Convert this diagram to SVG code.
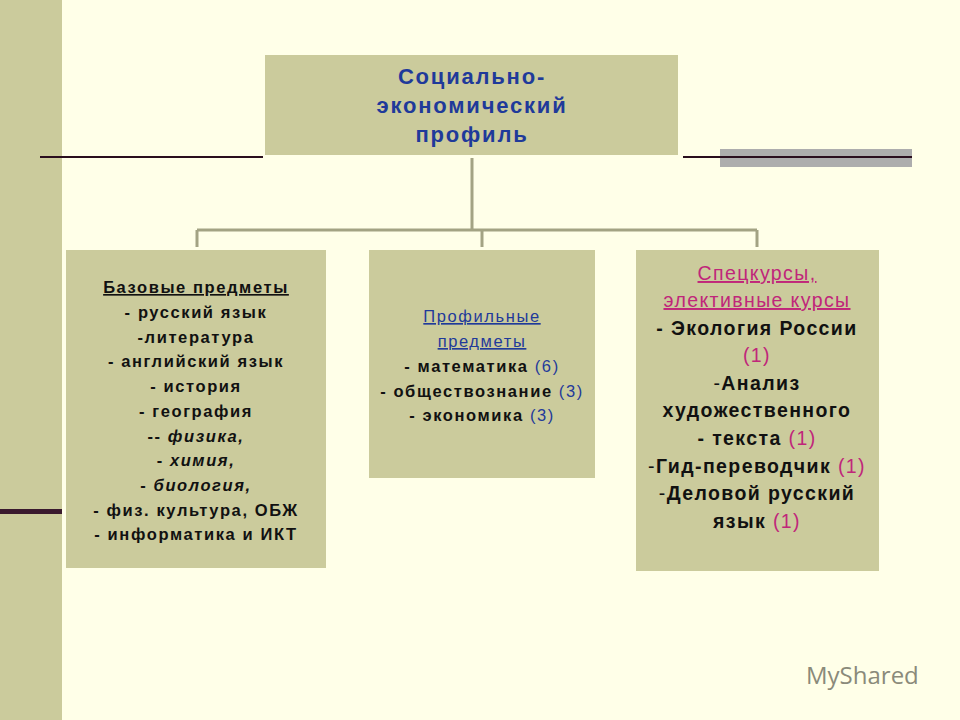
<svg xmlns="http://www.w3.org/2000/svg" width="960" height="720" viewBox="0 0 960 720">
<style>
.box{fill:#CBCB9C}
.t{font-family:"Liberation Sans",Arial,sans-serif;font-weight:bold;text-anchor:middle;fill:#111}
.b{font-size:16.5px;letter-spacing:1.6px}
.r{font-size:19.5px;letter-spacing:1.4px}
.ttl{font-size:22px;letter-spacing:1.8px}
.blue{fill:#1F3A9A}
.pink{fill:#C0267A}
.n{font-weight:normal}
.i{font-style:italic}
.conn{stroke:#A3A383;stroke-width:3;fill:none}
</style>
<rect width="960" height="720" fill="#FFFFE8"/>
<rect x="0" y="0" width="62" height="720" fill="#CBCB9C"/>
<rect x="0" y="509" width="62" height="5" fill="#3A1A2E"/>
<rect x="720" y="149" width="192" height="18" fill="#ADADAD"/>
<line x1="40" y1="157" x2="263" y2="157" stroke="#2A0E1E" stroke-width="2"/>
<line x1="683" y1="157" x2="912" y2="157" stroke="#2A0E1E" stroke-width="2"/>
<g id="connectors">
<path class="conn" d="M472 158V230M197 230H757M197 230V247M482 230V247M757 230V247"/>
</g>
<g id="root">
<rect class="box" x="265" y="55" width="413" height="100"/>
<text class="t ttl blue" x="472" y="84">Социально-</text>
<text class="t ttl blue" x="472" y="113">экономический</text>
<text class="t ttl blue" x="472" y="142">профиль</text>
</g>
<g id="base">
<rect class="box" x="66" y="250" width="260" height="318"/>
<text class="t b" x="196" y="293" text-decoration="underline">Базовые  предметы</text>
<text class="t b" x="196" y="318">- русский язык</text>
<text class="t b" x="196" y="343">-литература</text>
<text class="t b" x="196" y="367">- английский язык</text>
<text class="t b" x="196" y="392">- история</text>
<text class="t b" x="196" y="417">- география</text>
<text class="t b" x="196" y="442">-- <tspan class="i">физика,</tspan></text>
<text class="t b" x="196" y="466">- <tspan class="i">химия,</tspan></text>
<text class="t b" x="196" y="491">- <tspan class="i">биология,</tspan></text>
<text class="t b" x="196" y="516">- физ. культура,  ОБЖ</text>
<text class="t b" x="196" y="540">- информатика и ИКТ</text>
</g>
<g id="profile">
<rect class="box" x="369" y="250" width="226" height="228"/>
<text class="t b blue n" x="482" y="322" text-decoration="underline">Профильные</text>
<text class="t b blue n" x="482" y="347" text-decoration="underline">предметы</text>
<text class="t b" x="482" y="372">- математика <tspan class="blue n">(6)</tspan></text>
<text class="t b" x="482" y="397">- обществознание <tspan class="blue n">(3)</tspan></text>
<text class="t b" x="482" y="421">- экономика <tspan class="blue n">(3)</tspan></text>
</g>
<g id="elective">
<rect class="box" x="636" y="250" width="243" height="321"/>
<text class="t r pink n" x="757" y="280" text-decoration="underline">Спецкурсы,</text>
<text class="t r pink n" x="757" y="307" text-decoration="underline">элективные курсы</text>
<text class="t r" x="757" y="335">- Экология России</text>
<text class="t r pink n" x="757" y="362">(1)</text>
<text class="t r" x="757" y="390"><tspan class="n">-</tspan>Анализ</text>
<text class="t r" x="757" y="417">художественного</text>
<text class="t r" x="757" y="445">- текста  <tspan class="pink n">(1)</tspan></text>
<text class="t r" x="757" y="473"><tspan class="n">-</tspan>Гид-переводчик <tspan class="pink n">(1)</tspan></text>
<text class="t r" x="757" y="500"><tspan class="n">-</tspan>Деловой русский</text>
<text class="t r" x="757" y="528">язык <tspan class="pink n">(1)</tspan></text>
</g>
<text x="806" y="684" font-family="'Open Sans','Liberation Sans',sans-serif" font-size="24" fill="#8A8A7A">MyShared</text>
</svg>
